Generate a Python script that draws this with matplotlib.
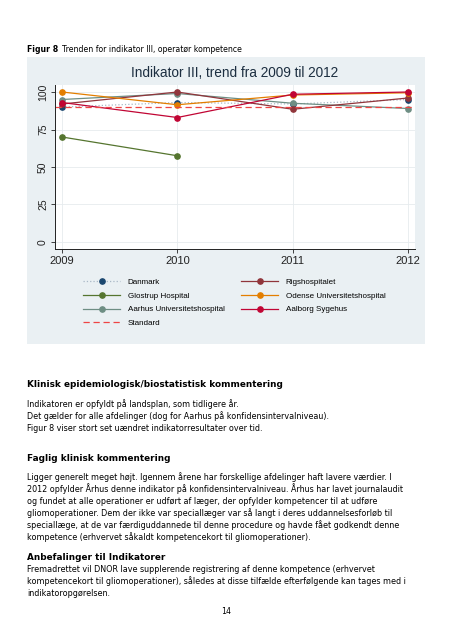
import matplotlib
matplotlib.use("Agg")
import matplotlib.pyplot as plt
from matplotlib.patches import Rectangle

W, H = 453, 640

# data
years = [2009, 2010, 2011, 2012]
danmark = [90, 93, 92, 95]
glostrup = [70, 57.5, None, None]
aarhus = [95, 99, 92.5, 89]
rigshospitalet = [92, 100, 88.5, 96]
odense = [100, 91.5, 98, 99.5]
aalborg = [93, 83, 98.5, 100]
standard = 90

series = [
    ("Danmark", danmark, "#a9b8c6", "#1a476f", ":"),
    ("Glostrup Hospital", glostrup, "#55752f", "#55752f", "-"),
    ("Aarhus Universitetshospital", aarhus, "#6e8e84", "#6e8e84", "-"),
    ("Rigshospitalet", rigshospitalet, "#90353b", "#90353b", "-"),
    ("Odense Universitetshospital", odense, "#e37e00", "#e37e00", "-"),
    ("Aalborg Sygehus", aalborg, "#c10534", "#c10534", "-"),
]

yticks = [0, 25, 50, 75, 100]

CHART_FONT = "Liberation Sans"


def fx(px):
    return px / W


def fy(py):
    return 1 - py / H


fig = plt.figure(figsize=(W / 100, H / 100), dpi=100)
fig.patch.set_facecolor("white")

# grey-blue graph region behind the chart
fig.add_artist(Rectangle((fx(27), fy(344)), fx(398), 287 / H,
                         transform=fig.transFigure, facecolor="#eaf0f3",
                         edgecolor="none", zorder=0))

ax = fig.add_axes([fx(55), fy(249), fx(360), 164 / H])
ax.set_facecolor("white")
ax.set_xlim(2008.939, 2012.061)
ax.set_ylim(-4.67, 104.67)
ax.set_xticks(years)
ax.set_yticks(yticks)
ax.tick_params(axis="y", labelrotation=90, labelsize=7.5, length=3, width=0.6,
               pad=2, colors="#222222")
ax.tick_params(axis="x", labelsize=8, length=3, width=0.6, pad=2,
               colors="#222222")
for lab in ax.get_yticklabels() + ax.get_xticklabels():
    lab.set_family(CHART_FONT)
for lab in ax.get_yticklabels():
    lab.set_verticalalignment("center")
ax.grid(True, color="#e6ebee", linewidth=0.6)
ax.set_axisbelow(True)
for side in ["top", "right"]:
    ax.spines[side].set_visible(False)
for side in ["left", "bottom"]:
    ax.spines[side].set_linewidth(0.7)
    ax.spines[side].set_color("#222222")

handles = []
for name, vals, lc, mc, ls in series:
    xs = [x for x, v in zip(years, vals) if v is not None]
    ys = [v for v in vals if v is not None]
    h, = ax.plot(xs, ys, linestyle=ls, color=lc, linewidth=0.9,
                 marker="o", markersize=3.8, markerfacecolor=mc,
                 markeredgecolor=mc, label=name, clip_on=False)
    handles.append(h)

std = ax.axhline(standard, color="#ee4444", linestyle=(0, (5, 3)),
                 linewidth=0.9, label="Standard")

ax.set_title("Indikator III, trend fra 2009 til 2012", fontsize=9.8,
             color="#1c2e40", pad=6, family=CHART_FONT)

order = [handles[0], handles[1], handles[2], std, handles[3], handles[4],
         handles[5]]
fig.legend(handles=order, labels=[h.get_label() for h in order],
           loc="upper left", bbox_to_anchor=(fx(80), fy(275)), ncol=2,
           frameon=False, prop={"family": CHART_FONT, "size": 5.8},
           handlelength=4.6, handletextpad=0.9, columnspacing=2.1,
           labelspacing=0.76, borderaxespad=0)

# page text around the chart
fig.text(fx(27), fy(52), "Figur 8", fontsize=5.6, fontweight="bold",
         va="baseline")
fig.text(fx(62), fy(52), "Trenden for indikator III, operatør kompetence",
         fontsize=5.6, va="baseline")

body = 5.75
fig.text(fx(27), fy(387), "Klinisk epidemiologisk/biostatistisk kommentering",
         fontsize=6.4, fontweight="bold", va="baseline")
lines1 = [
    "Indikatoren er opfyldt på landsplan, som tidligere år.",
    "Det gælder for alle afdelinger (dog for Aarhus på konfidensintervalniveau).",
    "Figur 8 viser stort set uændret indikatorresultater over tid.",
]
for i, t in enumerate(lines1):
    fig.text(fx(27), fy(407 + 12 * i), t, fontsize=body, va="baseline")

fig.text(fx(27), fy(461), "Faglig klinisk kommentering", fontsize=6.4,
         fontweight="bold", va="baseline")
lines2 = [
    "Ligger generelt meget højt. Igennem årene har forskellige afdelinger haft lavere værdier. I",
    "2012 opfylder Århus denne indikator på konfidensintervalniveau. Århus har lavet journalaudit",
    "og fundet at alle operationer er udført af læger, der opfylder kompetencer til at udføre",
    "gliomoperationer. Dem der ikke var speciallæger var så langt i deres uddannelsesforløb til",
    "speciallæge, at de var færdiguddannede til denne procedure og havde fået godkendt denne",
    "kompetence (erhvervet såkaldt kompetencekort til gliomoperationer).",
]
for i, t in enumerate(lines2):
    fig.text(fx(27), fy(480 + 12 * i), t, fontsize=body, va="baseline")

fig.text(fx(27), fy(560), "Anbefalinger til Indikatorer", fontsize=6.4,
         fontweight="bold", va="baseline")
lines3 = [
    "Fremadrettet vil DNOR lave supplerende registrering af denne kompetence (erhvervet",
    "kompetencekort til gliomoperationer), således at disse tilfælde efterfølgende kan tages med i",
    "indikatoropgørelsen.",
]
for i, t in enumerate(lines3):
    fig.text(fx(27), fy(572 + 12 * i), t, fontsize=body, va="baseline")

fig.text(fx(226), fy(614), "14", fontsize=5.6, ha="center", va="baseline")

fig.savefig("out.png", dpi=100)
